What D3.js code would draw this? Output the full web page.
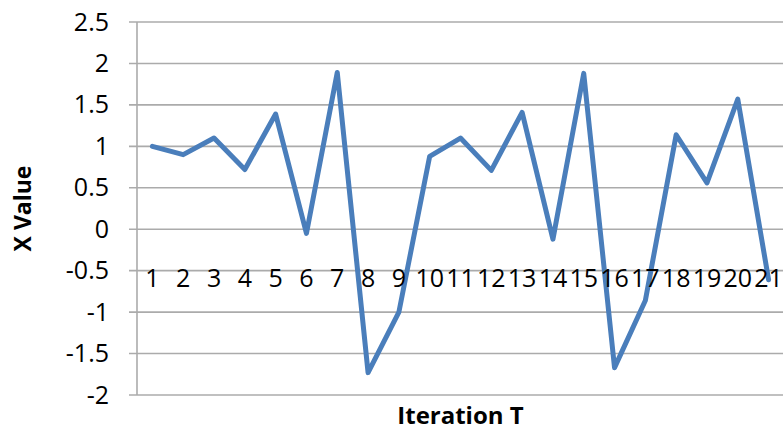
<!DOCTYPE html>
<html>
<head>
<meta charset="utf-8">
<script src="https://cdn.jsdelivr.net/npm/d3@7"></script>
<style>
  html, body { margin: 0; padding: 0; background: #fff; overflow: hidden; }
  svg { display: block; font-family: "Open Sans", "Liberation Sans", sans-serif; }
</style>
</head>
<body>
<svg id="chart" width="783" height="432"></svg>
<script>
// Iteration index and the X value recorded at each iteration
const iterations = [1, 2, 3, 4, 5, 6, 7, 8, 9, 10, 11, 12, 13, 14, 15, 16, 17, 18, 19, 20, 21];
const xValues = [1.0, 0.9, 1.1, 0.72, 1.39, -0.05, 1.89, -1.73, -1.0, 0.88, 1.1, 0.71, 1.41, -0.12, 1.88, -1.67, -0.86, 1.14, 0.56, 1.57, -0.61];
const yTicks = [-2, -1.5, -1, -0.5, 0, 0.5, 1, 1.5, 2, 2.5];
const xTitle = "Iteration T";
const yTitle = "X Value";

const svg = d3.select("#chart");
const plot = { left: 137, right: 784, top: 22, bottom: 395 };

const x = d3.scaleBand().domain(iterations).range([plot.left, plot.right]).padding(0);
const y = d3.scaleLinear().domain([-2, 2.5]).range([plot.bottom, plot.top]);

// Horizontal gridlines with short ticks left of the value axis
svg.append("g")
  .selectAll("line")
  .data(yTicks)
  .join("line")
  .attr("x1", plot.left - 8)
  .attr("x2", plot.right)
  .attr("y1", d => y(d))
  .attr("y2", d => y(d))
  .attr("stroke", "#ababab")
  .attr("stroke-width", 1.6);

// Value axis line
svg.append("line")
  .attr("x1", plot.left).attr("x2", plot.left)
  .attr("y1", y(2.5)).attr("y2", y(-2))
  .attr("stroke", "#ababab")
  .attr("stroke-width", 1.6);

// Value axis labels
const yAxis = d3.axisLeft(y).tickValues(yTicks).tickSize(0).tickPadding(0)
  .tickFormat(d => String(d));
svg.append("g")
  .attr("transform", `translate(${plot.left - 28},0)`)
  .call(yAxis)
  .call(g => g.select(".domain").remove())
  .call(g => g.selectAll("text")
    .attr("font-size", 25)
    .attr("font-family", "Open Sans, Liberation Sans, sans-serif")
    .attr("fill", "#000"));

// Data line
const line = d3.line()
  .x((d, i) => x(iterations[i]) + x.bandwidth() / 2)
  .y(d => y(d));

svg.append("path")
  .datum(xValues)
  .attr("d", line)
  .attr("fill", "none")
  .attr("stroke", "#4a7ebb")
  .attr("stroke-width", 5)
  .attr("stroke-linejoin", "round")
  .attr("stroke-linecap", "round");

// Category labels sitting on the -0.5 gridline
const xAxis = d3.axisBottom(x).tickSize(0).tickPadding(0);
svg.append("g")
  .attr("transform", `translate(0,${y(-0.5)})`)
  .call(xAxis)
  .call(g => g.select(".domain").remove())
  .call(g => g.selectAll("text")
    .attr("dy", null)
    .attr("y", 16)
    .attr("font-size", 25)
    .attr("font-family", "Open Sans, Liberation Sans, sans-serif")
    .attr("fill", "#000"));

// Axis titles
svg.append("text")
  .attr("x", (plot.left + plot.right) / 2)
  .attr("y", 424)
  .attr("text-anchor", "middle")
  .attr("font-size", 24)
  .attr("font-weight", "bold")
  .attr("fill", "#000")
  .text(xTitle);

svg.append("text")
  .attr("transform", `translate(31,${(plot.top + plot.bottom) / 2}) rotate(-90)`)
  .attr("text-anchor", "middle")
  .attr("font-size", 23)
  .attr("font-weight", "bold")
  .attr("fill", "#000")
  .text(yTitle);
</script>
</body>
</html>
